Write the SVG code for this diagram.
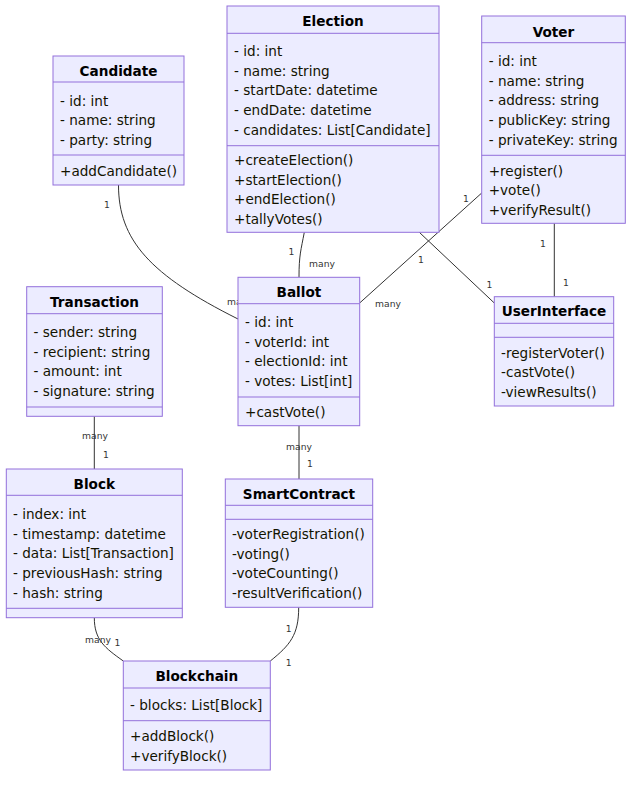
<svg xmlns="http://www.w3.org/2000/svg" width="640" height="786" viewBox="0 0 640 786">
<style>
.box{fill:#ECECFF;stroke:#9370DB;stroke-width:1}
.div{stroke:#9370DB;stroke-width:1}
.title{font-family:"DejaVu Sans",sans-serif;font-size:13.6px;font-weight:bold;fill:#000;text-anchor:middle}
.mem{font-family:"DejaVu Sans",sans-serif;font-size:13.6px;fill:#131300}
.rel{fill:none;stroke:#333;stroke-width:1}
.lbl{font-family:"DejaVu Sans",sans-serif;font-size:9.2px;fill:#333;text-anchor:middle}
</style>
<rect width="640" height="786" fill="#fff"/>
<g id="connectors">
<path class="rel" d="M118.5,185 C118.5,240 150,275 238,319"/>
<path class="rel" d="M304.3,232.3 C301,250 299,255 299,277.3"/>
<path class="rel" d="M481.7,193 L360,302.7"/>
<path class="rel" d="M419.3,232.3 L494.3,303"/>
<path class="rel" d="M554.3,223.3 L554.3,296.7"/>
<path class="rel" d="M94.3,416.3 L94.3,469"/>
<path class="rel" d="M299,425.7 L299,479"/>
<path class="rel" d="M94.3,617.7 C94.3,640 105,648 123.3,661"/>
<path class="rel" d="M298.7,607.3 C298.7,635 290,645 270.3,661"/>
<text class="lbl" x="107" y="208.3">1</text>
<text class="lbl" x="227" y="305.3" style="text-anchor:start">many</text>
<text class="lbl" x="291.5" y="255.3">1</text>
<text class="lbl" x="322" y="267.3">many</text>
<text class="lbl" x="466" y="202.3">1</text>
<text class="lbl" x="388" y="307.3">many</text>
<text class="lbl" x="421" y="263.3">1</text>
<text class="lbl" x="489.5" y="288.3">1</text>
<text class="lbl" x="543" y="247.3">1</text>
<text class="lbl" x="566" y="286.3">1</text>
<text class="lbl" x="95" y="439.3">many</text>
<text class="lbl" x="106" y="458.3">1</text>
<text class="lbl" x="299" y="449.8">many</text>
<text class="lbl" x="310" y="467.3">1</text>
<text class="lbl" x="98" y="643.3">many</text>
<text class="lbl" x="117.5" y="645.8">1</text>
<text class="lbl" x="288.7" y="632.3">1</text>
<text class="lbl" x="288.7" y="666.3">1</text>
</g>
<g id="Candidate">
<rect class="box" x="53" y="56" width="131" height="129"/>
<line class="div" x1="53" y1="82" x2="184" y2="82"/>
<line class="div" x1="53" y1="155" x2="184" y2="155"/>
<text class="title" x="118.5" y="75.5">Candidate</text>
<text class="mem" x="60" y="105.5">- id: int</text>
<text class="mem" x="60" y="125.2">- name: string</text>
<text class="mem" x="60" y="144.9">- party: string</text>
<text class="mem" x="60" y="175.5">+addCandidate()</text>
</g>
<g id="Election">
<rect class="box" x="227" y="6" width="212" height="226.3"/>
<line class="div" x1="227" y1="33.3" x2="439" y2="33.3"/>
<line class="div" x1="227" y1="145.7" x2="439" y2="145.7"/>
<text class="title" x="333" y="25.5">Election</text>
<text class="mem" x="234" y="56">- id: int</text>
<text class="mem" x="234" y="75.7">- name: string</text>
<text class="mem" x="234" y="95.4">- startDate: datetime</text>
<text class="mem" x="234" y="115.1">- endDate: datetime</text>
<text class="mem" x="234" y="134.8">- candidates: List[Candidate]</text>
<text class="mem" x="234" y="165">+createElection()</text>
<text class="mem" x="234" y="184.7">+startElection()</text>
<text class="mem" x="234" y="204.4">+endElection()</text>
<text class="mem" x="234" y="224.1">+tallyVotes()</text>
</g>
<g id="Voter">
<rect class="box" x="481.7" y="16" width="143.6" height="207.3"/>
<line class="div" x1="481.7" y1="42.7" x2="625.3" y2="42.7"/>
<line class="div" x1="481.7" y1="155.3" x2="625.3" y2="155.3"/>
<text class="title" x="553.5" y="36.5">Voter</text>
<text class="mem" x="488.7" y="66">- id: int</text>
<text class="mem" x="488.7" y="85.7">- name: string</text>
<text class="mem" x="488.7" y="105.4">- address: string</text>
<text class="mem" x="488.7" y="125.1">- publicKey: string</text>
<text class="mem" x="488.7" y="144.8">- privateKey: string</text>
<text class="mem" x="488.7" y="175.5">+register()</text>
<text class="mem" x="488.7" y="195.2">+vote()</text>
<text class="mem" x="488.7" y="214.9">+verifyResult()</text>
</g>
<g id="Ballot">
<rect class="box" x="238" y="277.3" width="121.7" height="148.4"/>
<line class="div" x1="238" y1="303.7" x2="359.7" y2="303.7"/>
<line class="div" x1="238" y1="397" x2="359.7" y2="397"/>
<text class="title" x="298.9" y="297">Ballot</text>
<text class="mem" x="245" y="327">- id: int</text>
<text class="mem" x="245" y="346.7">- voterId: int</text>
<text class="mem" x="245" y="366.4">- electionId: int</text>
<text class="mem" x="245" y="386.1">- votes: List[int]</text>
<text class="mem" x="245" y="416.5">+castVote()</text>
</g>
<g id="UserInterface">
<rect class="box" x="494.3" y="296.7" width="119.4" height="109.3"/>
<line class="div" x1="494.3" y1="323.3" x2="613.7" y2="323.3"/>
<line class="div" x1="494.3" y1="337.3" x2="613.7" y2="337.3"/>
<text class="title" x="554" y="316">UserInterface</text>
<text class="mem" x="501" y="357.5">-registerVoter()</text>
<text class="mem" x="501" y="377.2">-castVote()</text>
<text class="mem" x="501" y="396.9">-viewResults()</text>
</g>
<g id="Transaction">
<rect class="box" x="26.7" y="286.7" width="135.6" height="129.6"/>
<line class="div" x1="26.7" y1="313.7" x2="162.3" y2="313.7"/>
<line class="div" x1="26.7" y1="407" x2="162.3" y2="407"/>
<text class="title" x="94.5" y="306.5">Transaction</text>
<text class="mem" x="33.5" y="337">- sender: string</text>
<text class="mem" x="33.5" y="356.7">- recipient: string</text>
<text class="mem" x="33.5" y="376.4">- amount: int</text>
<text class="mem" x="33.5" y="396.1">- signature: string</text>
</g>
<g id="Block">
<rect class="box" x="6.3" y="469" width="176" height="148.7"/>
<line class="div" x1="6.3" y1="495.3" x2="182.3" y2="495.3"/>
<line class="div" x1="6.3" y1="608.3" x2="182.3" y2="608.3"/>
<text class="title" x="94.3" y="488.5">Block</text>
<text class="mem" x="13" y="519">- index: int</text>
<text class="mem" x="13" y="538.7">- timestamp: datetime</text>
<text class="mem" x="13" y="558.4">- data: List[Transaction]</text>
<text class="mem" x="13" y="578.1">- previousHash: string</text>
<text class="mem" x="13" y="597.8">- hash: string</text>
</g>
<g id="SmartContract">
<rect class="box" x="225.3" y="479" width="147.4" height="128.3"/>
<line class="div" x1="225.3" y1="505.3" x2="372.7" y2="505.3"/>
<line class="div" x1="225.3" y1="519.3" x2="372.7" y2="519.3"/>
<text class="title" x="299" y="499">SmartContract</text>
<text class="mem" x="232" y="539">-voterRegistration()</text>
<text class="mem" x="232" y="558.7">-voting()</text>
<text class="mem" x="232" y="578.4">-voteCounting()</text>
<text class="mem" x="232" y="598.1">-resultVerification()</text>
</g>
<g id="Blockchain">
<rect class="box" x="123.3" y="661" width="147" height="109"/>
<line class="div" x1="123.3" y1="688" x2="270.3" y2="688"/>
<line class="div" x1="123.3" y1="720.7" x2="270.3" y2="720.7"/>
<text class="title" x="196.8" y="680.5">Blockchain</text>
<text class="mem" x="130" y="710">- blocks: List[Block]</text>
<text class="mem" x="130" y="741">+addBlock()</text>
<text class="mem" x="130" y="760.5">+verifyBlock()</text>
</g>
</svg>
